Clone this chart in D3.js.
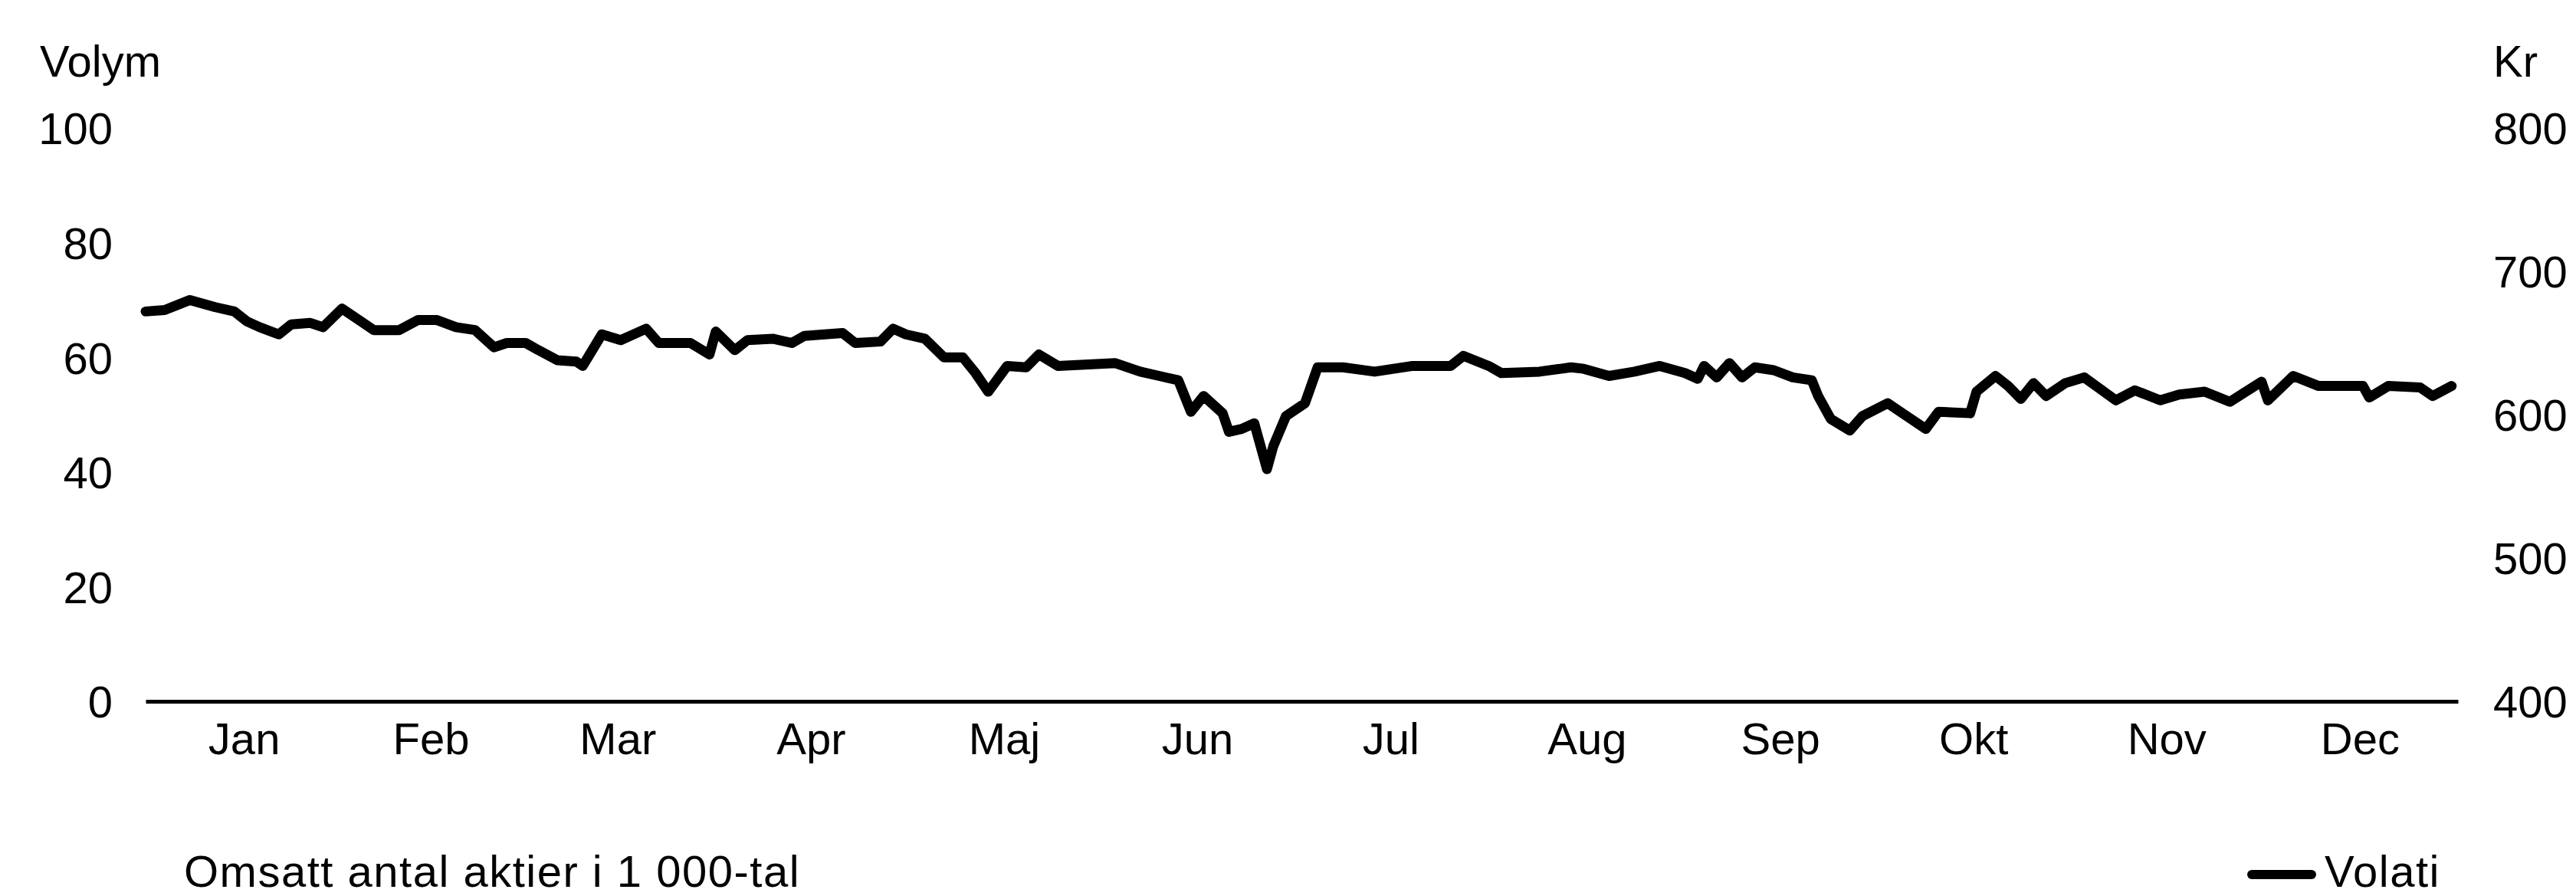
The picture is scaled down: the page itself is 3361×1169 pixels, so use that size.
<!DOCTYPE html>
<html>
<head>
<meta charset="utf-8">
<script src="https://cdn.jsdelivr.net/npm/d3@7/dist/d3.min.js"></script>
<style>
  html, body { margin: 0; padding: 0; background: #fff; }
  svg { display: block; }
  text { font-family: "Liberation Sans", Arial, Helvetica, sans-serif; fill: #000; }
</style>
</head>
<body>
<svg id="chart" width="3361" height="1169"></svg>
<script>
// ---- data ----
const months = ["Jan","Feb","Mar","Apr","Maj","Jun","Jul","Aug","Sep","Okt","Nov","Dec"];
const volymTicks = [0, 20, 40, 60, 80, 100];
const krTicks = [400, 500, 600, 700, 800];
// day of year (0 = 1 Jan) of each sampled point
const days = [0,3,7,11,14,16,18,21,23,26,28,31,34,36,40,43,46,49,52,55,57,60,62,65,68,69,72,75,79,81,86,89,90,93,95,99,102,104,110,112,116,118,120,123,126,129,131,133,136,139,141,144,153,157,160,163,165,167,170,171,173,175,177,178,180,183,185,189,194,200,206,208,212,214,220,225,227,231,235,239,243,245,246,248,250,252,254,257,260,263,264,266,269,271,275,277,281,283,288,289,292,294,296,298,300,303,306,311,314,318,321,325,329,334,335,339,343,350,351,354,359,361,364];
// share price, Kr
const prices = [672,673,680,675,672,665,661,656,663,664,661,674,665,659,659,666,666,661,659,647,650,650,645,638,637,634,656,652,660,650,650,642,658,645,652,653,650,655,657,650,651,660,656,653,640,640,629,616,634,633,642,634,636,630,627,624,602,613,601,588,590,594,562,578,599,608,633,633,630,634,634,641,634,629,630,633,632,627,630,634,629,625,634,626,636,626,633,631,626,624,613,597,589,599,608,602,590,602,601,616,627,620,611,622,613,622,626,610,617,610,614,616,609,623,610,627,620,620,612,620,619,613,620];

const svg = d3.select("#chart");
const FS = 58;

const x = d3.scaleTime()
  .domain([new Date(2003, 0, 1), new Date(2004, 0, 1)])
  .range([190, 3207]);
const yL = d3.scaleLinear().domain([0, 100]).range([915, 167]);
const yR = d3.scaleLinear().domain([400, 800]).range([915, 167]);

// month label positions: middle of each month
const monthMid = months.map((m, i) => new Date((+new Date(2003, i, 1) + +new Date(2003, i + 1, 1)) / 2));

// x axis
const xAxis = svg.append("g")
  .attr("transform", "translate(0,915)")
  .call(d3.axisBottom(x).tickValues(monthMid).tickSize(0).tickSizeOuter(0).tickPadding(0)
    .tickFormat((d, i) => months[i]));
xAxis.select(".domain").attr("stroke", "#000").attr("stroke-width", 5);
xAxis.selectAll("text").attr("font-size", FS).attr("dy", null).attr("y", 69)
  .attr("font-family", "Liberation Sans, Arial, sans-serif");

// left axis
const lAxis = svg.append("g")
  .attr("transform", "translate(147,0)")
  .call(d3.axisLeft(yL).tickValues(volymTicks).tickSize(0).tickPadding(0));
lAxis.select(".domain").remove();
lAxis.selectAll("text").attr("font-size", FS).attr("dy", "0.36em")
  .attr("font-family", "Liberation Sans, Arial, sans-serif");

// right axis
const rAxis = svg.append("g")
  .attr("transform", "translate(3253,0)")
  .call(d3.axisRight(yR).tickValues(krTicks).tickSize(0).tickPadding(0));
rAxis.select(".domain").remove();
rAxis.selectAll("text").attr("font-size", FS).attr("dy", "0.36em")
  .attr("font-family", "Liberation Sans, Arial, sans-serif");

// axis titles
svg.append("text").attr("x", 52).attr("y", 100).attr("font-size", FS).text("Volym");
svg.append("text").attr("x", 3253).attr("y", 100).attr("font-size", FS).text("Kr");

// price line
const pts = days.map((d, i) => ({ date: d3.timeDay.offset(new Date(2003, 0, 1), d), v: prices[i] }));
const line = d3.line().x(d => x(d.date)).y(d => yR(d.v));
svg.append("path")
  .datum(pts)
  .attr("d", line)
  .attr("fill", "none")
  .attr("stroke", "#000")
  .attr("stroke-width", 13)
  .attr("stroke-linejoin", "round")
  .attr("stroke-linecap", "round");

// footnote
svg.append("text").attr("x", 240).attr("y", 1157).attr("font-size", FS)
  .attr("letter-spacing", 1.5).text("Omsatt antal aktier i 1 000-tal");

// legend
svg.append("line").attr("x1", 2938).attr("x2", 3016).attr("y1", 1141).attr("y2", 1141)
  .attr("stroke", "#000").attr("stroke-width", 12).attr("stroke-linecap", "round");
svg.append("text").attr("x", 3033).attr("y", 1157).attr("font-size", FS)
  .attr("letter-spacing", 1.5).text("Volati");
</script>
</body>
</html>
